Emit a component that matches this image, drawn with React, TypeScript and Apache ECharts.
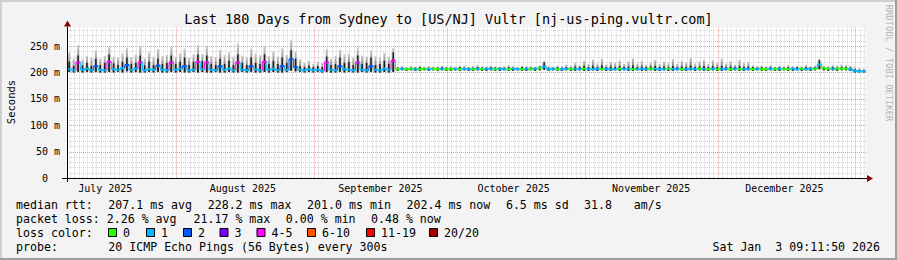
import React, { useEffect, useRef } from 'react';
import * as echarts from 'echarts';

const TITLE = 'Last 180 Days from Sydney to [US/NJ] Vultr [nj-us-ping.vultr.com]';
const DAY_MS = 86400000;
const END_TIME = Date.UTC(2026, 0, 3, 9, 11, 50);
const DAYS = 180;
const START_TIME = END_TIME - DAYS * DAY_MS;

// month label positions (mid-month) and month boundaries
const monthLabels = ['July 2025', 'August 2025', 'September 2025', 'October 2025', 'November 2025', 'December 2025'];
const monthLabelDates: [number, number, number][] = [[2025, 6, 16], [2025, 7, 16], [2025, 8, 16], [2025, 9, 16], [2025, 10, 16], [2025, 11, 16]];
const monthStartDates: [number, number, number][] = [[2025, 7, 1], [2025, 8, 1], [2025, 9, 1], [2025, 10, 1], [2025, 11, 1], [2026, 0, 1]];

const yMajorTicks = [50, 100, 150, 200, 250];
const yMinorStep = 10;
const yMax = 285;

// daily median RTT (ms)
const medianMs = [
  206, 204, 219, 205, 207, 204, 212, 205, 204, 220,
  206, 205, 208, 214, 205, 207, 219, 204, 206, 205,
  213, 205, 204, 219, 205, 207, 212, 204, 205, 220,
  206, 219, 205, 204, 212, 205, 207, 204, 219, 205,
  204, 212, 206, 204, 220, 205, 207, 204, 212, 205,
  225, 210, 205, 204, 206, 204, 205, 203, 219, 205,
  204, 212, 206, 205, 204, 219, 205, 204, 212, 205,
  204, 207, 205, 222,
  206, 207, 206, 207, 206, 206, 207, 206, 207, 206,
  207, 206, 206, 207, 206, 207, 206, 206, 207, 206,
  207, 207, 206, 207, 206, 206, 207, 206, 206, 207,
  206, 207, 208, 211, 206, 207, 206, 206, 207, 206,
  207, 206, 207, 206, 206, 207, 206, 207, 206, 206,
  207, 206, 207, 206, 206, 207, 206, 207, 207, 206,
  206, 207, 206, 207, 206, 206, 207, 206, 207, 206,
  206, 207, 206, 206, 207, 206, 207, 206, 206, 207,
  206, 207, 206, 206, 207, 206, 207, 206, 206, 207,
  206, 207, 206, 207, 207, 215, 208, 207, 207, 207,
  207, 207, 206, 203, 202, 202,
];

// pings lost out of 20
const lostPings = [
  1, 1, 4, 1, 1, 1, 2, 1, 1, 4,
  1, 1, 1, 2, 1, 1, 4, 1, 1, 1,
  2, 1, 1, 4, 1, 1, 2, 1, 1, 4,
  1, 4, 1, 1, 2, 1, 1, 1, 4, 1,
  1, 2, 1, 1, 4, 1, 1, 1, 2, 1,
  2, 2, 1, 1, 1, 1, 1, 1, 4, 1,
  1, 2, 1, 1, 1, 4, 1, 1, 2, 1,
  1, 1, 1, 4,
  0, 1, 0, 0, 1, 0, 0, 1, 0, 0,
  1, 0, 0, 1, 0, 1, 1, 0, 1, 0,
  1, 1, 0, 1, 1, 0, 1, 1, 0, 1,
  0, 1, 0, 1, 1, 1, 0, 1, 1, 0,
  1, 1, 0, 1, 1, 1, 0, 1, 1, 1,
  0, 1, 1, 0, 1, 1, 1, 0, 1, 1,
  1, 0, 1, 1, 0, 1, 1, 1, 0, 1,
  0, 1, 0, 1, 1, 0, 1, 0, 1, 1,
  0, 1, 0, 0, 1, 0, 1, 0, 0, 1,
  1, 0, 1, 1, 0, 1, 0, 0, 1, 0,
  0, 0, 1, 1, 1, 1,
];

// smoke: lowest ping
const smokeLow = [
  201, 200, 201, 200, 201, 200, 201, 200, 200, 201,
  200, 201, 200, 202, 200, 201, 200, 200, 201, 200,
  201, 200, 200, 201, 200, 201, 200, 200, 201, 200,
  201, 200, 200, 201, 200, 200, 201, 200, 200, 201,
  200, 201, 200, 200, 201, 200, 201, 200, 200, 201,
  203, 202, 201, 200, 201, 200, 201, 200, 201, 200,
  200, 201, 200, 201, 200, 200, 201, 200, 201, 200,
  200, 201, 200, 201,
  203, 204, 203, 204, 203, 203, 204, 203, 204, 203,
  204, 203, 203, 204, 203, 204, 203, 203, 204, 203,
  203, 204, 203, 203, 204, 203, 203, 204, 203, 203,
  204, 203, 204, 205, 203, 204, 203, 203, 204, 203,
  203, 204, 203, 203, 204, 203, 204, 203, 203, 204,
  203, 204, 203, 203, 204, 203, 203, 204, 203, 203,
  204, 203, 203, 204, 203, 203, 204, 203, 204, 203,
  203, 204, 203, 203, 204, 203, 204, 203, 203, 204,
  203, 204, 203, 203, 204, 203, 203, 204, 203, 203,
  204, 203, 204, 203, 204, 206, 204, 203, 204, 203,
  204, 204, 203, 200, 200, 200,
];

// smoke: dense (dark) upper edge
const smokeDark = [
  220, 212, 232, 213, 218, 212, 226, 214, 218, 234,
  217, 214, 220, 228, 216, 218, 232, 213, 220, 214,
  226, 216, 218, 232, 216, 220, 228, 214, 220, 234,
  222, 232, 216, 214, 226, 216, 222, 214, 234, 218,
  214, 228, 218, 216, 234, 216, 222, 216, 228, 218,
  242, 226, 212, 210, 213, 210, 212, 210, 230, 214,
  216, 228, 218, 220, 214, 232, 216, 218, 228, 214,
  216, 222, 216, 238,
  209, 209, 208, 209, 209, 210, 208, 209, 209, 209,
  210, 209, 209, 208, 210, 209, 209, 209, 210, 209,
  209, 210, 209, 209, 209, 210, 209, 208, 210, 209,
  209, 209, 211, 219, 209, 209, 210, 209, 210, 209,
  211, 210, 212, 210, 212, 210, 213, 210, 211, 210,
  212, 210, 211, 213, 210, 211, 210, 211, 212, 210,
  211, 210, 212, 210, 211, 210, 213, 210, 211, 212,
  210, 211, 210, 212, 210, 211, 210, 212, 210, 211,
  210, 209, 210, 209, 210, 209, 210, 209, 210, 209,
  210, 209, 210, 209, 210, 223, 210, 209, 210, 209,
  210, 210, 209, 206, 205, 204,
];

// smoke: highest ping
const smokeHigh = [
  238, 226, 252, 225, 232, 228, 242, 226, 231, 248,
  230, 228, 236, 246, 229, 234, 250, 227, 238, 230,
  244, 231, 233, 249, 230, 236, 245, 228, 234, 252,
  235, 250, 231, 229, 243, 233, 238, 230, 255, 232,
  229, 245, 236, 233, 250, 231, 240, 230, 246, 233,
  262, 240, 225, 218, 222, 216, 220, 218, 244, 226,
  231, 243, 234, 236, 229, 248, 232, 230, 242, 231,
  228, 237, 230, 246,
  211, 212, 210, 212, 211, 213, 211, 212, 211, 212,
  213, 211, 212, 211, 213, 212, 211, 212, 214, 212,
  211, 213, 212, 211, 212, 214, 212, 211, 213, 212,
  212, 211, 213, 222, 212, 211, 213, 212, 215, 213,
  218, 214, 222, 216, 224, 217, 226, 215, 220, 218,
  223, 216, 221, 227, 217, 222, 215, 219, 224, 216,
  220, 218, 225, 216, 222, 219, 228, 217, 221, 224,
  216, 223, 218, 226, 217, 221, 215, 224, 218, 220,
  214, 212, 213, 212, 214, 211, 213, 212, 214, 212,
  213, 212, 214, 212, 213, 226, 213, 212, 214, 213,
  215, 214, 213, 210, 208, 207,
];

const lossColors = ['#26ff00', '#00b8ff', '#0059ff', '#7e00ff', '#ff00ff', '#ff5500', '#ff0000', '#a10000'];
const lossLabels = ['0', '1', '2', '3', '4-5', '6-10', '11-19', '20/20'];
const lossSwatchX = [108, 146, 183, 219.5, 256.5, 307, 366, 429];

const statRows = [
  'median rtt:  207.1 ms avg  228.2 ms max  201.0 ms min  202.4 ms now  6.5 ms sd  31.8   am/s',
  'packet loss: 2.26 % avg  21.17 % max  0.00 % min  0.48 % now',
];
const probeText = 'probe:       20 ICMP Echo Pings (56 Bytes) every 300s';
const dateText = 'Sat Jan  3 09:11:50 2026';

const MONO = '"DejaVu Sans Mono", monospace';
const CHAR_W = 7.1;
const TEXT_X = 16;
const GRID_LEFT = 67;
const GRID_RIGHT = 866;
const AXIS_Y = 178;
const PX_PER_MS = 132 / 250;
const GRID_TOP = AXIS_Y - yMax * PX_PER_MS;

function lossClass(n: number) {
  if (n <= 3) return n;
  if (n <= 5) return 4;
  if (n <= 10) return 5;
  if (n <= 19) return 6;
  return 7;
}

function utc(d: [number, number, number]) {
  return Date.UTC(d[0], d[1], d[2]);
}

// split a monospace row into phrases positioned on the character grid
function rowTexts(row: string, y: number) {
  const out: any[] = [];
  const re = /\S+(?: \S+)*/g;
  let m: RegExpExecArray | null;
  while ((m = re.exec(row))) {
    out.push({
      type: 'text',
      x: TEXT_X + m.index * CHAR_W,
      y,
      style: { text: m[0], fontFamily: MONO, fontSize: 11.6, fill: '#000', align: 'left', verticalAlign: 'middle' },
    });
  }
  return out;
}

export default function App() {
  const ref = useRef<HTMLDivElement>(null);

  useEffect(() => {
    document.body.style.margin = '0';
    if (!ref.current) return;
    const chart = echarts.init(ref.current, undefined, { renderer: 'svg' });

    const dayTime = (i: number) => START_TIME + (i + 0.5) * DAY_MS;
    const smokeData = medianMs.map((_, i) => [dayTime(i), smokeLow[i], smokeDark[i], smokeHigh[i]]);
    const medianData = medianMs.map((v, i) => [
      dayTime(i), v,
      i > 0 ? dayTime(i - 1) : dayTime(i),
      i > 0 ? medianMs[i - 1] : v,
      lostPings[i],
    ]);

    const labelTimes = monthLabelDates.map(utc);
    const monthStarts = monthStartDates.map(utc);

    // grid lines: [orientation (0 = vertical / 1 = horizontal), value, major]
    const gridItems: number[][] = [];
    for (let d = Math.ceil(START_TIME / DAY_MS) * DAY_MS; d < END_TIME; d += DAY_MS) {
      if (monthStarts.indexOf(d) < 0) gridItems.push([0, d, 0]);
    }
    for (let v = yMinorStep; v < yMax; v += yMinorStep) {
      if (yMajorTicks.indexOf(v) < 0) gridItems.push([1, v, 0]);
    }
    monthStarts.forEach((t) => gridItems.push([0, t, 1]));
    yMajorTicks.forEach((v) => gridItems.push([1, v, 1]));

    const smokeGrad = new echarts.graphic.LinearGradient(0, 0, 0, 1, [
      { offset: 0, color: '#cccccc' },
      { offset: 0.5, color: '#8f8f8f' },
      { offset: 1, color: '#3a3a3a' },
    ]);

    const graphics: any[] = [
      // frame
      { type: 'rect', shape: { x: 0, y: 0, width: 897, height: 2 }, style: { fill: '#cfcfcf' }, silent: true },
      { type: 'rect', shape: { x: 0, y: 0, width: 2, height: 260 }, style: { fill: '#cfcfcf' }, silent: true },
      { type: 'rect', shape: { x: 0, y: 258, width: 897, height: 2 }, style: { fill: '#9e9e9e' }, silent: true },
      { type: 'rect', shape: { x: 895, y: 0, width: 2, height: 260 }, style: { fill: '#9e9e9e' }, silent: true },
      // title
      { type: 'text', x: 448.5, y: 18.5, style: { text: TITLE, fontFamily: MONO, fontSize: 13.5, fill: '#000', align: 'center', verticalAlign: 'middle' } },
      // y axis name
      { type: 'text', x: 11, y: 102, rotation: Math.PI / 2, style: { text: 'Seconds', fontFamily: MONO, fontSize: 10.5, fill: '#000', align: 'center', verticalAlign: 'middle' } },
      // credit
      { type: 'text', x: 888.5, y: 63, rotation: -Math.PI / 2, style: { text: 'RRDTOOL / TOBI OETIKER', fontFamily: MONO, fontSize: 8.8, fill: '#b4b4b4', align: 'center', verticalAlign: 'middle' } },
      // axes
      { type: 'line', shape: { x1: 62, y1: AXIS_Y + 0.5, x2: GRID_RIGHT + 1, y2: AXIS_Y + 0.5 }, style: { stroke: '#000', lineWidth: 1 }, z: 10 },
      { type: 'polygon', shape: { points: [[GRID_RIGHT + 1, AXIS_Y - 3], [GRID_RIGHT + 7, AXIS_Y + 0.5], [GRID_RIGHT + 1, AXIS_Y + 4]] }, style: { fill: '#8b0000' }, z: 10 },
      { type: 'line', shape: { x1: GRID_LEFT + 0.5, y1: AXIS_Y + 4, x2: GRID_LEFT + 0.5, y2: GRID_TOP - 1 }, style: { stroke: '#000', lineWidth: 1 }, z: 10 },
      { type: 'polygon', shape: { points: [[GRID_LEFT - 3, GRID_TOP - 1], [GRID_LEFT + 0.5, GRID_TOP - 7], [GRID_LEFT + 4, GRID_TOP - 1]] }, style: { fill: '#8b0000' }, z: 10 },
      // stats
      ...rowTexts(statRows[0], 204.5),
      ...rowTexts(statRows[1], 218.5),
      { type: 'text', x: TEXT_X, y: 232.5, style: { text: 'loss color:', fontFamily: MONO, fontSize: 11.6, fill: '#000', align: 'left', verticalAlign: 'middle' } },
      ...lossColors.map((c, i) => ({
        type: 'rect', shape: { x: lossSwatchX[i] + 0.5, y: 228.5, width: 8, height: 8 },
        style: { fill: c, stroke: '#000', lineWidth: 1 },
      })),
      ...lossLabels.map((t, i) => ({
        type: 'text', x: lossSwatchX[i] + 15, y: 232.5,
        style: { text: t, fontFamily: MONO, fontSize: 11.6, fill: '#000', align: 'left', verticalAlign: 'middle' },
      })),
      ...rowTexts(probeText, 246.5),
      { type: 'text', x: 880, y: 246.5, style: { text: dateText, fontFamily: MONO, fontSize: 11.6, fill: '#000', align: 'right', verticalAlign: 'middle' } },
    ];

    chart.setOption({
      animation: false,
      backgroundColor: '#f3f3f3',
      grid: {
        left: GRID_LEFT, top: GRID_TOP, width: GRID_RIGHT - GRID_LEFT, height: AXIS_Y - GRID_TOP,
        show: true, backgroundColor: '#ffffff', borderWidth: 0,
      },
      xAxis: {
        type: 'value', min: START_TIME, max: END_TIME,
        axisLine: { show: false }, axisTick: { show: false }, splitLine: { show: false },
        axisLabel: {
          customValues: labelTimes,
          formatter: (v: number) => {
            const i = labelTimes.indexOf(v);
            return i >= 0 ? monthLabels[i] : '';
          },
          fontFamily: MONO, fontSize: 10, color: '#000', margin: 5, hideOverlap: false,
        },
      },
      yAxis: {
        type: 'value', min: 0, max: yMax, interval: 50,
        axisLine: { show: false }, axisTick: { show: false }, splitLine: { show: false },
        axisLabel: {
          formatter: (v: number) => (v === 0 ? '0\u00a0\u00a0' : v % 50 === 0 && v <= 250 ? v + ' m' : ''),
          fontFamily: MONO, fontSize: 10, color: '#000', margin: 7,
        },
      },
      series: [
        {
          type: 'custom', z: 1, silent: true,
          data: gridItems,
          encode: { x: -1, y: -1 },
          renderItem: (params: any, api: any) => {
            const cs = params.coordSys;
            const vertical = api.value(0) === 0;
            const major = api.value(2) === 1;
            const style = { stroke: major ? 'rgba(235,60,60,0.55)' : '#d4d4d4', lineWidth: 1, lineDash: [1, 1] };
            if (vertical) {
              const x = Math.round(api.coord([api.value(1), 0])[0]) + 0.5;
              return { type: 'line', shape: { x1: x, y1: cs.y, x2: x, y2: cs.y + cs.height }, style };
            }
            const y = Math.round(api.coord([START_TIME, api.value(1)])[1]) + 0.5;
            return { type: 'line', shape: { x1: cs.x, y1: y, x2: cs.x + cs.width, y2: y }, style };
          },
        },
        {
          type: 'custom', z: 2, silent: true,
          data: smokeData,
          encode: { x: 0, y: [1, 2, 3] },
          renderItem: (params: any, api: any) => {
            const t = api.value(0);
            const w = api.size([DAY_MS, 0])[0];
            const lo = api.coord([t, api.value(1)]);
            const dk = api.coord([t, api.value(2)]);
            const hi = api.coord([t, api.value(3)]);
            const x = lo[0];
            return {
              type: 'group',
              children: [
                { type: 'rect', shape: { x: x - w / 2, y: dk[1], width: w, height: lo[1] - dk[1] }, style: { fill: '#dedede' } },
                { type: 'rect', shape: { x: x - 1, y: hi[1], width: 2, height: lo[1] - hi[1] }, style: { fill: smokeGrad } },
                { type: 'rect', shape: { x: x - 0.7, y: dk[1], width: 1.4, height: lo[1] - dk[1] }, style: { fill: '#1e1e1e' } },
              ],
            };
          },
        },
        {
          type: 'custom', z: 3, silent: true,
          data: medianData,
          encode: { x: 0, y: 1 },
          renderItem: (params: any, api: any) => {
            const w = api.size([DAY_MS, 0])[0];
            const c = api.coord([api.value(0), api.value(1)]);
            const p = api.coord([api.value(2), api.value(3)]);
            const color = lossColors[lossClass(api.value(4))];
            const xl = c[0] - w / 2;
            return {
              type: 'group',
              children: [
                { type: 'line', shape: { x1: xl, y1: p[1], x2: xl, y2: c[1] }, style: { stroke: color, lineWidth: 1 } },
                { type: 'line', shape: { x1: xl, y1: c[1], x2: c[0] + w / 2, y2: c[1] }, style: { stroke: color, lineWidth: 2 } },
              ],
            };
          },
        },
      ],
      graphic: graphics,
    });

    return () => chart.dispose();
  }, []);

  return <div ref={ref} style={{ width: 897, height: 260 }} />;
}
